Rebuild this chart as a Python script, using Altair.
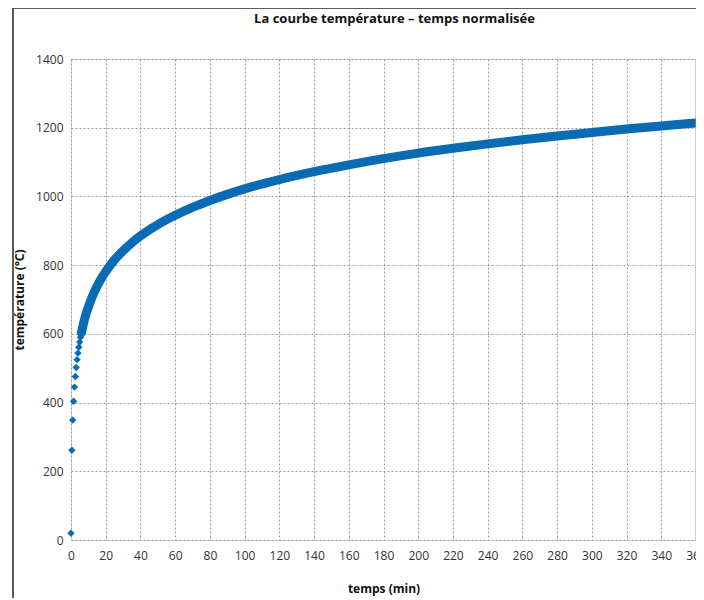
import altair as alt
import pandas as pd

# Early, clearly separated diamond markers (every 0.5 min)
t_pts = [0, 0.5, 1, 1.5, 2, 2.5, 3, 3.5, 4, 4.5, 5, 5.5, 6, 6.5, 7, 7.5, 8]
T_pts = [20, 261, 349, 404, 445, 476, 502, 525, 544, 561, 576, 590, 603, 615, 626, 636, 646]

# Dense part of the curve (markers overlap into a thick band)
t_band = [6, 7, 8, 9, 10, 12, 14, 16, 18, 20, 25, 30, 35, 40, 50, 60, 70, 80, 90, 100,
          120, 140, 160, 180, 200, 220, 240, 260, 280, 300, 320, 340, 360]
T_band = [603, 626, 646, 663, 678, 705, 728, 748, 766, 781, 815, 842, 865, 885, 918, 945,
          968, 988, 1006, 1022, 1049, 1072, 1092, 1110, 1126, 1140, 1153, 1165, 1176, 1186,
          1196, 1205, 1214]

x_ticks = list(range(0, 361, 20))
y_ticks = list(range(0, 1401, 200))

BLUE = "#0a6bb5"
FONT = "Open Sans"

pts = pd.DataFrame({"t": t_pts, "T": T_pts})
band = pd.DataFrame({"t": t_band, "T": T_band})

xs = alt.Scale(domain=[0, 360], nice=False, zero=False)
ys = alt.Scale(domain=[0, 1400], nice=False)

xax = alt.Axis(values=x_ticks, format="d", title="temps (min)", grid=True, gridDash=[2, 2],
               gridColor="#9a9a9a", domain=False, ticks=False, labelPadding=10,
               titlePadding=22, labelFontSize=12, titleFontSize=12, labelFont=FONT,
               titleFont=FONT, labelColor="#333333", titleColor="#111111",
               titleFontWeight="bold", labelFlush=False, labelOverlap=False)
yax = alt.Axis(values=y_ticks, format="d", title="température (°C)", grid=True, gridDash=[2, 2],
               gridColor="#9a9a9a", domain=False, ticks=False, labelPadding=8,
               titlePadding=9, labelFontSize=12, titleFontSize=12, labelFont=FONT,
               titleFont=FONT, labelColor="#333333", titleColor="#111111",
               titleFontWeight="bold", labelOverlap=False)

line = alt.Chart(band).mark_line(color=BLUE, strokeWidth=9, interpolate="monotone",
                                 strokeCap="round").encode(
    x=alt.X("t:Q", scale=xs, axis=xax),
    y=alt.Y("T:Q", scale=ys, axis=yax),
)

points = alt.Chart(pts).mark_point(shape="diamond", filled=True, size=55, color=BLUE,
                                   opacity=1).encode(
    x=alt.X("t:Q", scale=xs, axis=xax),
    y=alt.Y("T:Q", scale=ys, axis=yax),
)

right_edge = alt.Chart(pd.DataFrame({"t": [360]})).mark_rule(color="#9a9a9a",
                                                              strokeWidth=1).encode(
    x=alt.X("t:Q", scale=xs, axis=xax))

frame_left = alt.Chart(pd.DataFrame({"a": [0]})).mark_rule(color="#222222", strokeWidth=1.5).encode(
    x=alt.value(-58), y=alt.value(-51), y2=alt.value(540))
frame_top = alt.Chart(pd.DataFrame({"a": [0]})).mark_rule(color="#222222", strokeWidth=1.5).encode(
    x=alt.value(-58), x2=alt.value(640), y=alt.value(-51))

chart = alt.layer(line, points, right_edge, frame_left, frame_top).properties(
    width=625, height=481,
    title=alt.TitleParams("La courbe température – temps normalisée", font=FONT,
                          fontSize=13, fontWeight="bold", color="#111111",
                          anchor="middle", dx=11, offset=0, dy=19),
    autosize=alt.AutoSizeParams(type="none"),
    padding={"left": 63, "top": 51, "right": 0, "bottom": 58},
).configure_view(stroke=None).configure(background="white")

chart.save("out.html", embed_options={"renderer": "svg", "actions": False})
